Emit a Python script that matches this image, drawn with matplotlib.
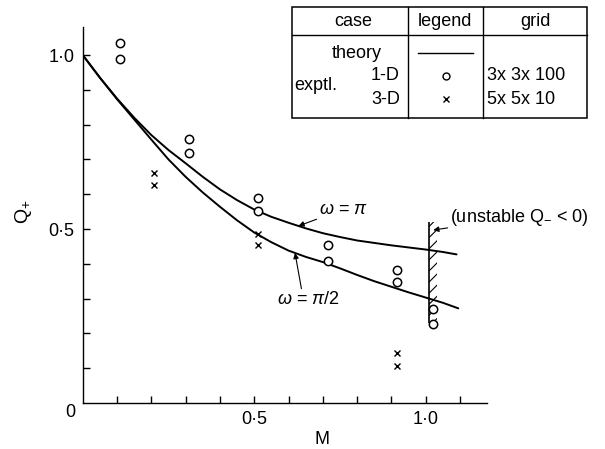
import numpy as np
import matplotlib
matplotlib.use("Agg")
import matplotlib.pyplot as plt
from matplotlib.patches import Rectangle

plt.rcParams['font.family'] = ['Liberation Sans', 'DejaVu Sans']
plt.rcParams['mathtext.fontset'] = 'custom'
plt.rcParams['mathtext.rm'] = 'Liberation Sans'
plt.rcParams['mathtext.it'] = 'Liberation Sans:italic'
plt.rcParams['hatch.linewidth'] = 0.8

# theory curves Q+ vs M
m_theory = [0.0, 0.05, 0.1, 0.15, 0.2, 0.25, 0.3, 0.35, 0.4, 0.45, 0.5, 0.55,
            0.6, 0.65, 0.7, 0.75, 0.8, 0.85, 0.9, 0.95, 1.0, 1.05, 1.09]
q_omega_pi = [1.0, 0.935, 0.875, 0.82, 0.77, 0.727, 0.689, 0.65, 0.614, 0.583, 0.556, 0.535,
              0.518, 0.502, 0.488, 0.477, 0.467, 0.46, 0.453, 0.447, 0.441, 0.434, 0.427]
m_theory_half = [0.0, 0.05, 0.1, 0.15, 0.2, 0.25, 0.3, 0.35, 0.4, 0.45, 0.5, 0.55,
                 0.6, 0.65, 0.7, 0.75, 0.8, 0.85, 0.9, 0.95, 1.0, 1.05, 1.095]
q_omega_half_pi = [1.0, 0.935, 0.873, 0.815, 0.757, 0.70, 0.65, 0.605, 0.564, 0.525, 0.49, 0.462,
                   0.438, 0.42, 0.405, 0.387, 0.368, 0.35, 0.334, 0.318, 0.303, 0.288, 0.272]

# experiment, 1-D (3x3x100 grid)
m_1d = [0.11, 0.11, 0.31, 0.31, 0.51, 0.51, 0.714, 0.714, 0.915, 0.915, 1.02, 1.02]
q_1d = [1.034, 0.989, 0.758, 0.718, 0.590, 0.551, 0.454, 0.409, 0.382, 0.347, 0.269, 0.226]

# experiment, 3-D (5x5x10 grid)
m_3d = [0.208, 0.208, 0.51, 0.51, 0.915, 0.915]
q_3d = [0.662, 0.626, 0.485, 0.454, 0.143, 0.107]

# unstable region boundary
m_unstable = 1.01
q_unstable = (0.23, 0.52)

x_ticks = [0.5, 1.0]
x_tick_labels = ["0·5", "1·0"]
y_ticks = [0.5, 1.0]
y_tick_labels = ["0·5", "1·0"]

table_header = ["case", "legend", "grid"]
grid_labels = ["3x 3x 100", "5x 5x 10"]

W, H = 605, 449
fig = plt.figure(figsize=(W / 100, H / 100), dpi=100)
ax = fig.add_axes([82.7 / W, 46 / H, 1.18 * 343 / W, 1.08 * 348 / H])
ax.set_xlim(0, 1.18)
ax.set_ylim(0, 1.08)
for s in ("top", "right"):
    ax.spines[s].set_visible(False)
for s in ("left", "bottom"):
    ax.spines[s].set_linewidth(1.0)

ax.plot(m_theory, q_omega_pi, color="black", lw=1.4, solid_capstyle="round", solid_joinstyle="round")
ax.plot(m_theory_half, q_omega_half_pi, color="black", lw=1.4, solid_capstyle="round", solid_joinstyle="round")
ax.plot(m_1d, q_1d, linestyle="none", marker="o", ms=6, mfc="white", mec="black", mew=1.1)
ax.plot(m_3d, q_3d, linestyle="none", marker="x", ms=4.5, color="black", mew=1.0)

# unstable boundary with hatching
ax.vlines(m_unstable, q_unstable[0], q_unstable[1], color="black", lw=1.2)
ax.add_patch(Rectangle((m_unstable, q_unstable[0]), 0.022, q_unstable[1] - q_unstable[0],
                       fill=False, hatch="///", lw=0, edgecolor="black"))

# ticks
minor = np.round(np.arange(0.1, 1.15, 0.1), 2)
ax.set_xticks(x_ticks, x_tick_labels)
ax.set_xticks([t for t in minor if t not in x_ticks], minor=True)
ax.set_yticks(y_ticks, y_tick_labels)
ax.set_yticks([t for t in minor if t <= 1.0 and t not in y_ticks], minor=True)
ax.tick_params(which="both", direction="in", length=5, width=1.0, labelsize=13)
ax.tick_params(axis="x", pad=6)
ax.tick_params(axis="y", pad=6)
ax.text(-0.022, -0.004, "0", ha="right", va="top", fontsize=13)

fig.text(322 / W, 1 - 440 / H, "M", ha="center", va="center", fontsize=13)
fig.text(24 / W, 1 - 212 / H, r"Q$_{+}$", rotation=90, ha="center", va="center", fontsize=14)

# curve labels
arrow = dict(arrowstyle="-|>", lw=0.8, color="black", mutation_scale=8, shrinkA=0, shrinkB=0)
ax.annotate(r"$\omega$ = $\pi$", xy=(0.629, np.interp(0.629, m_theory, q_omega_pi)),
            xytext=(0.69, 0.557), fontsize=13, va="center", ha="left", arrowprops=arrow)
ax.annotate(r"$\omega$ = $\pi$/2", xy=(0.619, np.interp(0.619, m_theory_half, q_omega_half_pi)),
            xytext=(0.566, 0.296), fontsize=13, va="center", ha="left",
            arrowprops=dict(arrow, relpos=(0.4, 1.0)))
ax.annotate(r"(unstable Q$_{-}$ < 0)", xy=(1.022, 0.497), xytext=(1.072, 0.534),
            fontsize=13, va="center", ha="left", arrowprops=arrow)

# case / legend / grid table
tab = fig.add_axes([0, 0, 1, 1])
tab.set_xlim(0, W)
tab.set_ylim(H, 0)
tab.axis("off")
tab.patch.set_alpha(0)
tab.add_patch(Rectangle((291.7, 7), 587 - 291.7, 111, fill=False, lw=1.1, edgecolor="black"))
tab.plot([291.7, 587], [35, 35], color="black", lw=1.0)
tab.plot([408.3, 408.3], [7, 118], color="black", lw=1.0)
tab.plot([482.7, 482.7], [7, 118], color="black", lw=1.0)
tab.text(353, 22, table_header[0], ha="center", va="center", fontsize=13)
tab.text(445, 22, table_header[1], ha="center", va="center", fontsize=13)
tab.text(535, 22, table_header[2], ha="center", va="center", fontsize=13)
tab.text(382, 54, "theory", ha="right", va="center", fontsize=13)
tab.text(294, 86, "exptl.", ha="left", va="center", fontsize=13)
tab.text(400, 76, "1-D", ha="right", va="center", fontsize=13)
tab.text(400, 99, "3-D", ha="right", va="center", fontsize=13)
tab.plot([418, 473], [52.7, 52.7], color="black", lw=1.0)
tab.plot([445.7], [76], marker="o", ms=5, mfc="white", mec="black", mew=1.0)
tab.plot([445.7], [99], marker="x", ms=4.5, color="black", mew=1.0)
tab.text(487, 76, grid_labels[0], ha="left", va="center", fontsize=13)
tab.text(487, 99, grid_labels[1], ha="left", va="center", fontsize=13)

fig.savefig("out.png", dpi=100)
